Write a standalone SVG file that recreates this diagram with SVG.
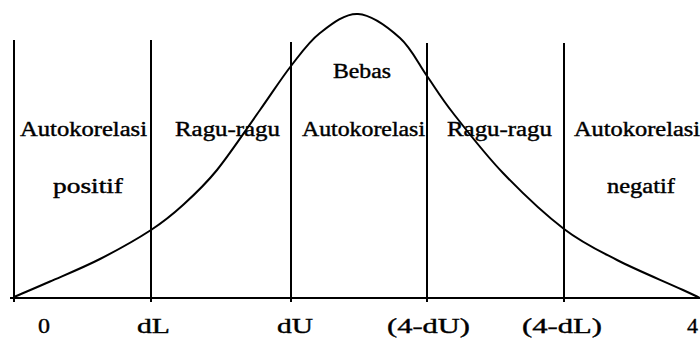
<svg xmlns="http://www.w3.org/2000/svg" width="700" height="343" viewBox="0 0 700 343">
<style>
.ln{stroke:#000;stroke-width:2;fill:none}
.t{font-family:"Liberation Serif","Times New Roman",serif;fill:#000;stroke:#000;stroke-width:0.4}
.lb{font-size:20px}
.ax{font-size:22px}
</style>
<rect width="700" height="343" fill="#fff"/>
<g id="connectors">
<line class="ln" x1="10" y1="298" x2="700" y2="298"/>
<line class="ln" x1="14" y1="40" x2="14" y2="302"/>
<line class="ln" x1="151" y1="40" x2="151" y2="302"/>
<line class="ln" x1="291" y1="42" x2="291" y2="302"/>
<line class="ln" x1="427" y1="43" x2="427" y2="302"/>
<line class="ln" x1="564" y1="43" x2="564" y2="302"/>
<path id="curve" class="ln" d="M14,297 C20,294.4 35.7,287.8 50,281.5 C64.3,275.2 83.2,267.6 100,259 C116.8,250.4 137.2,239 151,230 C164.8,221 172,215 183,205 C194,195 204.2,185.8 217,170 C229.8,154.2 247.7,127.3 260,110 C272.3,92.7 281,78.8 291,66 C301,53.2 308.8,41.7 320,33 C331.2,24.3 344.7,13.2 358,14 C371.3,14.8 388.5,27.7 400,38 C411.5,48.3 418.2,63.5 427,76 C435.8,88.5 440.3,96.8 453,113 C465.7,129.2 484.5,153.7 503,173 C521.5,192.3 545,214.5 564,229 C583,243.5 597.2,249.8 617,260 C636.8,270.2 663,280.8 683,290 C688.2,292.4 697,296.5 700,298"/>
</g>
<g id="zone-pos">
<text class="t lb" x="20" y="136" textLength="127" lengthAdjust="spacingAndGlyphs">Autokorelasi</text>
<text class="t lb" x="53" y="193" textLength="70" lengthAdjust="spacingAndGlyphs">positif</text>
</g>
<g id="zone-ragu1">
<text class="t lb" x="175" y="136" textLength="105" lengthAdjust="spacingAndGlyphs">Ragu-ragu</text>
</g>
<g id="zone-bebas">
<text class="t lb" x="333" y="78" textLength="58" lengthAdjust="spacingAndGlyphs">Bebas</text>
<text class="t lb" x="302" y="136" textLength="123" lengthAdjust="spacingAndGlyphs">Autokorelasi</text>
</g>
<g id="zone-ragu2">
<text class="t lb" x="447" y="136" textLength="105" lengthAdjust="spacingAndGlyphs">Ragu-ragu</text>
</g>
<g id="zone-neg">
<text class="t lb" x="574" y="136" textLength="126" lengthAdjust="spacingAndGlyphs">Autokorelasi</text>
<text class="t lb" x="607" y="193" textLength="68" lengthAdjust="spacingAndGlyphs">negatif</text>
</g>
<g id="axis-labels">
<text class="t ax" x="38" y="333" textLength="12" lengthAdjust="spacingAndGlyphs">0</text>
<text class="t ax" x="137" y="333" textLength="33" lengthAdjust="spacingAndGlyphs">dL</text>
<text class="t ax" x="277" y="333" textLength="36" lengthAdjust="spacingAndGlyphs">dU</text>
<text class="t ax" x="387" y="333" textLength="83" lengthAdjust="spacingAndGlyphs">(4-dU)</text>
<text class="t ax" x="522" y="333" textLength="80" lengthAdjust="spacingAndGlyphs">(4-dL)</text>
<text class="t ax" x="687" y="333">4</text>
</g>
</svg>
